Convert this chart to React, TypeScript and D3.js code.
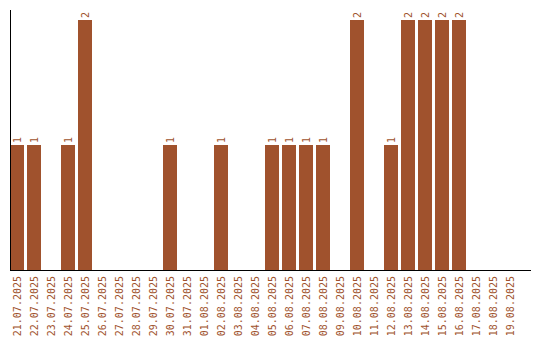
import React from "react";
import * as d3 from "d3";

const dates = [
  "21.07.2025", "22.07.2025", "23.07.2025", "24.07.2025", "25.07.2025",
  "26.07.2025", "27.07.2025", "28.07.2025", "29.07.2025", "30.07.2025",
  "31.07.2025", "01.08.2025", "02.08.2025", "03.08.2025", "04.08.2025",
  "05.08.2025", "06.08.2025", "07.08.2025", "08.08.2025", "09.08.2025",
  "10.08.2025", "11.08.2025", "12.08.2025", "13.08.2025", "14.08.2025",
  "15.08.2025", "16.08.2025", "17.08.2025", "18.08.2025", "19.08.2025",
];
const counts = [
  1, 1, 0, 1, 2,
  0, 0, 0, 0, 1,
  0, 0, 1, 0, 0,
  1, 1, 1, 1, 0,
  2, 0, 1, 2, 2,
  2, 2, 0, 0, 0,
];

const W = 540;
const H = 340;
const COLOR = "#a0522d";
const FONT = "'DejaVu Sans Mono', 'Liberation Mono', monospace";

export default function App() {
  const x = d3.scaleBand<string>().domain(dates).range([10, 517]).paddingInner(3 / 17).paddingOuter(0);
  const y = d3.scaleLinear().domain([0, d3.max(counts) ?? 2]).range([270, 20]);
  const bw = x.bandwidth();
  return (
    <svg
      width={W}
      height={H}
      style={{ position: "absolute", left: 0, top: 0, background: "#fff" }}
    >
      {dates.map((d, i) => {
        const v = counts[i];
        if (!v) return null;
        return (
          <rect key={"b" + d} x={x(d)} y={y(v)} width={bw} height={y(0) - y(v)} fill={COLOR} />
        );
      })}
      {dates.map((d, i) => {
        const v = counts[i];
        if (!v) return null;
        const cx = (x(d) ?? 0) + bw / 2;
        const ty = y(v) - 2;
        return (
          <text
            key={"v" + d}
            transform={`translate(${cx + 4},${ty}) rotate(-90)`}
            fontFamily={FONT}
            fontSize={10}
            fill={COLOR}
            textAnchor="start"
          >
            {v}
          </text>
        );
      })}
      {dates.map((d) => {
        const cx = (x(d) ?? 0) + bw / 2;
        return (
          <text
            key={"l" + d}
            transform={`translate(${cx + 4},${276}) rotate(-90)`}
            fontFamily={FONT}
            fontSize={10}
            fill={COLOR}
            textAnchor="end"
          >
            {d}
          </text>
        );
      })}
      <line x1={10.5} x2={10.5} y1={10} y2={270} stroke="#000" strokeWidth={1} />
      <line x1={10} x2={531} y1={270.5} y2={270.5} stroke="#000" strokeWidth={1} />
    </svg>
  );
}
